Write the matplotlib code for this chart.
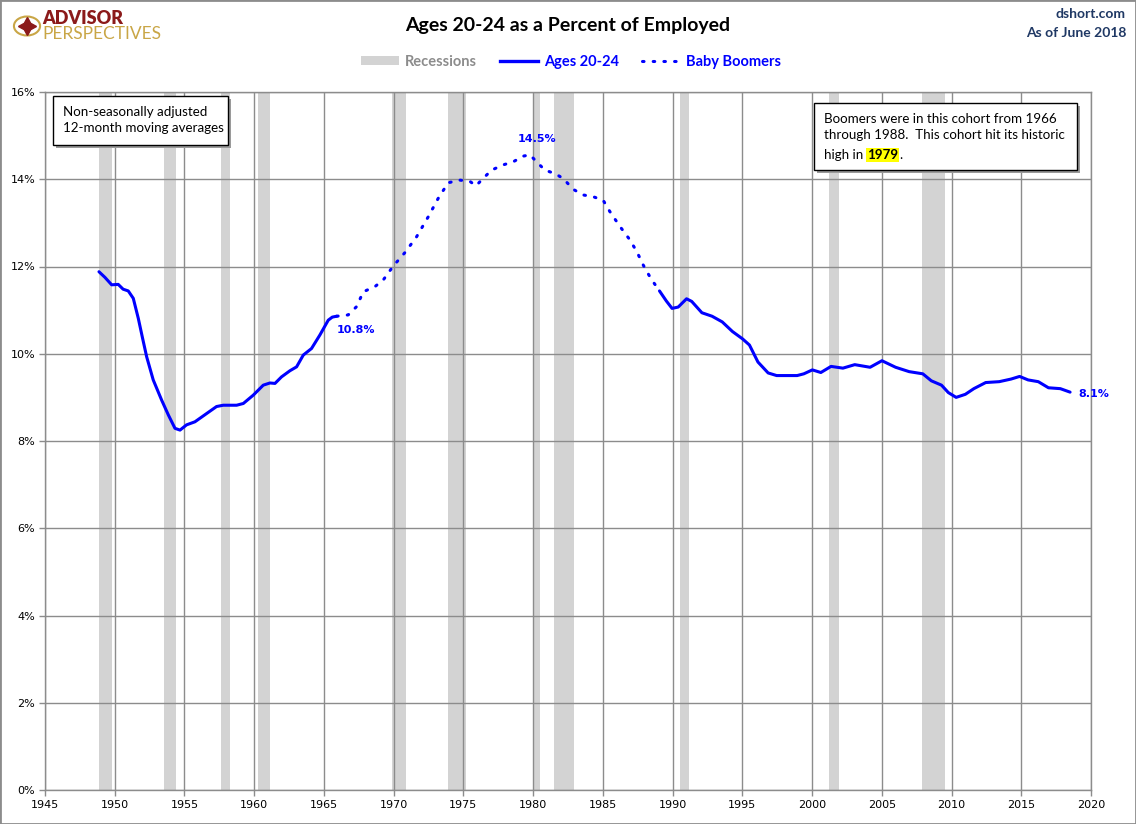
import matplotlib
matplotlib.use("Agg")
import matplotlib.pyplot as plt
from matplotlib.patches import Rectangle, Circle
from matplotlib.lines import Line2D
from matplotlib.patches import Patch

# --- data ---
years_early = [1948.87, 1949.3, 1949.78, 1950.25, 1950.6, 1950.97, 1951.33, 1951.69, 1952.0,
               1952.29, 1952.76, 1953.36, 1953.84, 1954.32, 1954.68, 1955.15, 1955.75,
               1956.59, 1957.3, 1957.78, 1958.74, 1959.22, 1959.93, 1960.65, 1961.13,
               1961.49, 1961.96, 1962.56, 1963.04, 1963.52, 1964.11, 1964.71, 1965.31,
               1965.6, 1965.91]
pct_early = [11.88, 11.75, 11.58, 11.59, 11.48, 11.44, 11.27, 10.81, 10.35,
             9.93, 9.40, 8.94, 8.60, 8.29, 8.25, 8.37, 8.44,
             8.63, 8.79, 8.82, 8.82, 8.86, 9.05, 9.28, 9.33,
             9.32, 9.47, 9.61, 9.70, 9.97, 10.12, 10.43, 10.77,
             10.84, 10.86]

years_boom = [1965.91, 1966.74, 1967.34, 1967.82, 1968.66, 1969.25, 1969.97, 1970.81,
              1971.64, 1972.48, 1973.19, 1973.91, 1974.75, 1975.47, 1975.9, 1976.42,
              1977.02, 1977.86, 1978.57, 1979.29, 1979.77, 1980.25, 1980.84, 1981.56,
              1982.15, 1982.87, 1983.59, 1984.3, 1985.02, 1985.5, 1986.22, 1986.94,
              1987.45, 1987.9, 1988.45, 1989.06]
pct_boom = [10.86, 10.89, 11.08, 11.42, 11.54, 11.69, 12.01, 12.32,
            12.68, 13.14, 13.56, 13.92, 13.98, 13.95, 13.85, 14.02,
            14.21, 14.33, 14.40, 14.53, 14.56, 14.40, 14.21, 14.13,
            14.02, 13.77, 13.64, 13.60, 13.52, 13.26, 12.92, 12.61,
            12.33, 12.03, 11.72, 11.44]

years_late = [1989.06, 1989.55, 1989.96, 1990.4, 1991.0, 1991.37, 1992.1, 1992.83,
              1993.56, 1994.29, 1995.02, 1995.51, 1996.12, 1996.85, 1997.46, 1998.93,
              1999.41, 2000.02, 2000.63, 2001.36, 2002.21, 2003.06, 2004.16, 2005.01,
              2005.99, 2006.96, 2007.94, 2008.55, 2009.28, 2009.77, 2010.33, 2010.99,
              2011.6, 2012.45, 2013.42, 2014.27, 2014.88, 2015.49, 2016.22, 2016.95,
              2017.8, 2018.5]
pct_late = [11.44, 11.21, 11.04, 11.07, 11.26, 11.20, 10.94, 10.86,
            10.73, 10.51, 10.34, 10.20, 9.81, 9.56, 9.50, 9.50,
            9.54, 9.63, 9.57, 9.71, 9.67, 9.75, 9.69, 9.84,
            9.69, 9.59, 9.54, 9.38, 9.28, 9.11, 9.00, 9.07,
            9.20, 9.34, 9.36, 9.42, 9.48, 9.40, 9.36, 9.22,
            9.20, 9.12]

recessions = [(1948.9, 1949.8), (1953.5, 1954.4), (1957.6, 1958.3), (1960.3, 1961.1),
              (1969.9, 1970.9), (1973.9, 1975.2), (1980.0, 1980.5), (1981.5, 1982.9),
              (1990.5, 1991.2), (2001.2, 2001.9), (2007.9, 2009.5)]

x_ticks = list(range(1945, 2021, 5))
y_ticks = list(range(0, 17, 2))

BLUE = "#0000FF"
GRID = "#8C8C8C"
NAVY = "#1F3864"
TXT = ["Lato", "DejaVu Sans"]
DOTS = (0, (0.5, 3.0))

fig = plt.figure(figsize=(11.36, 8.24), dpi=100)
ax = fig.add_axes([45 / 1136, 34 / 824, 1046 / 1136, 698 / 824])

for start, end in recessions:
    ax.axvspan(start, end, color="#D3D3D3", lw=0, zorder=0)

ax.plot(years_early, pct_early, color=BLUE, lw=2.2, zorder=3, solid_capstyle="round")
ax.plot(years_boom, pct_boom, color=BLUE, lw=2.2, ls=DOTS, dash_capstyle="round", zorder=3)
ax.plot(years_late, pct_late, color=BLUE, lw=2.2, zorder=3, solid_capstyle="round")

ax.set_xlim(1945, 2020)
ax.set_ylim(0, 16)
ax.set_xticks(x_ticks)
ax.set_yticks(y_ticks)
ax.set_yticklabels([f"{v}%" for v in y_ticks])
ax.grid(True, color=GRID, lw=1, zorder=1)
ax.set_axisbelow(True)
ax.tick_params(axis="both", labelsize=8, color=GRID, length=4, width=1, pad=3)
for sp in ax.spines.values():
    sp.set_color(GRID)
    sp.set_linewidth(1)

# data labels
ax.text(1967.3, 10.55, "10.8%", color=BLUE, fontsize=8, fontweight="bold", ha="center", va="center")
ax.text(1980.3, 14.93, "14.5%", color=BLUE, fontsize=8, fontweight="bold", ha="center", va="center")
ax.text(2020.2, 9.08, "8.1%", color=BLUE, fontsize=8, fontweight="bold", ha="center", va="center",
        clip_on=False)

# title and corner texts
fig.text(568 / 1136, 1 - 25 / 824, "Ages 20-24 as a Percent of Employed", ha="center", va="center",
         fontsize=14, fontweight="bold", color="black", family=TXT)
fig.text(1126 / 1136, 1 - 14 / 824, "dshort.com", ha="right", va="center", fontsize=10,
         fontweight="bold", color=NAVY, family=TXT)
fig.text(1126 / 1136, 1 - 33 / 824, "As of June 2018", ha="right", va="center", fontsize=10,
         fontweight="bold", color=NAVY, family=TXT)

# logo
fig.patches.append(Circle((27 / 1136, 1 - 26 / 824), 0.0115, transform=fig.transFigure,
                          facecolor="none", edgecolor="#C9A646", lw=1.5))
fig.lines.append(Line2D([27 / 1136], [1 - 26 / 824], transform=fig.transFigure, marker=(4, 1, 0),
                        markersize=13, color="#8B1A1A"))
fig.text(42 / 1136, 1 - 19 / 824, "ADVISOR", ha="left", va="center", fontsize=13,
         fontweight="heavy", color="#8B1A1A", family=TXT)
fig.text(42 / 1136, 1 - 34 / 824, "PERSPECTIVES", ha="left", va="center", fontsize=12.5,
         color="#C9A646", family=TXT)

# legend
handles = [Patch(facecolor="#D3D3D3", edgecolor="none"),
           Line2D([0], [0], color=BLUE, lw=2.4),
           Line2D([0], [0], color=BLUE, lw=2.2, ls=DOTS, dash_capstyle="round")]
leg = fig.legend(handles, ["Recessions", "Ages 20-24", "Baby Boomers"], loc="center",
                 bbox_to_anchor=(571 / 1136, 1 - 62 / 824), ncol=3, frameon=False,
                 prop={"family": TXT, "size": 10.5, "weight": "bold"}, handlelength=2.6,
                 handleheight=0.6, columnspacing=1.6, handletextpad=0.4)
for txt, col in zip(leg.get_texts(), ["#8C8C8C", BLUE, BLUE]):
    txt.set_color(col)


def note_box(x0, y0, x1, y1):
    # pixel coords from the top-left corner of the figure
    w, h = (x1 - x0) / 1136, (y1 - y0) / 824
    fig.patches.append(Rectangle((x0 / 1136 + 3 / 1136, 1 - y1 / 824 - 3 / 824), w, h,
                                 transform=fig.transFigure, facecolor="#9A9A9A",
                                 edgecolor="none", zorder=5))
    fig.patches.append(Rectangle((x0 / 1136, 1 - y1 / 824), w, h, transform=fig.transFigure,
                                 facecolor="white", edgecolor="black", lw=1, zorder=6))


FS_NOTE = 9.6

note_box(53, 96, 228, 145)
fig.text(63 / 1136, 1 - 120 / 824, "Non-seasonally adjusted\n12-month moving averages",
         ha="left", va="center", fontsize=FS_NOTE, linespacing=1.4, color="black", zorder=7,
         family=TXT)

note_box(814, 103, 1077, 170)
fig.text(824 / 1136, 1 - 127 / 824, "Boomers were in this cohort from 1966\n"
         "through 1988.  This cohort hit its historic", ha="left", va="center",
         fontsize=FS_NOTE, linespacing=1.4, color="black", zorder=7, family=TXT)
t = fig.text(824 / 1136, 1 - 155 / 824, "high in ", ha="left", va="center", fontsize=FS_NOTE,
             color="black", zorder=7, family=TXT)
fig.canvas.draw()
bb = t.get_window_extent()
h = fig.text(bb.x1 / fig.bbox.width, 1 - 155 / 824, "1979", ha="left", va="center",
             fontsize=FS_NOTE, fontweight="bold", color="black", zorder=7, family=TXT,
             bbox=dict(boxstyle="square,pad=0.08", facecolor="#FFFF00", edgecolor="none"))
fig.canvas.draw()
hb = h.get_window_extent()
fig.text(hb.x1 / fig.bbox.width + 1 / 1136, 1 - 155 / 824, ".", ha="left", va="center",
         fontsize=FS_NOTE, color="black", zorder=7, family=TXT)

# outer border
fig.patches.append(Rectangle((0, 0), 1, 1, transform=fig.transFigure, facecolor="none",
                             edgecolor="#8C8C8C", lw=2, zorder=10))

fig.savefig("out.png", dpi=100)
